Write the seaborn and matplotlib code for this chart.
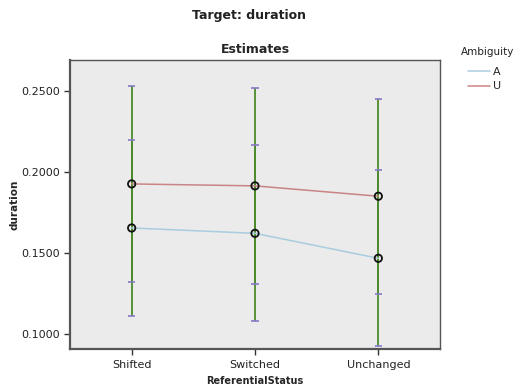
import numpy as np
import pandas as pd
import matplotlib
matplotlib.use("Agg")
import matplotlib.pyplot as plt
import seaborn as sns

# Estimated marginal means of duration with 95% CI bounds
status = ["Shifted", "Switched", "Unchanged"]
mean_A = [0.1654, 0.1621, 0.1467]
lower_A = [0.1113, 0.1080, 0.0925]
upper_A = [0.2196, 0.2165, 0.2010]
mean_U = [0.1926, 0.1914, 0.1850]
lower_U = [0.1321, 0.1309, 0.1245]
upper_U = [0.2531, 0.2517, 0.2453]
yticks = [0.10, 0.15, 0.20, 0.25]

df = pd.DataFrame({
    "ReferentialStatus": status * 2,
    "Ambiguity": ["A"] * 3 + ["U"] * 3,
    "duration": mean_A + mean_U,
    "lower": lower_A + lower_U,
    "upper": upper_A + upper_U,
})
df["x"] = df["ReferentialStatus"].map({s: i for i, s in enumerate(status)})

sns.set_theme(style="white")
plt.rcParams["font.family"] = ["DejaVu Sans"]

W, H = 518, 387
fig = plt.figure(figsize=(W / 100, H / 100), dpi=100)
ax = fig.add_axes([70 / W, 1 - 349 / H, 370 / W, 289 / H])
ax.set_facecolor("#ebebeb")

palette = {"A": "#a9cde0", "U": "#c98586"}

# error bars: green stems with purple caps
for _, r in df.iterrows():
    ax.vlines(r["x"], r["lower"], r["upper"], color="#4b8b2b", lw=1.3, zorder=2)
    ax.hlines([r["lower"], r["upper"]], r["x"] - 0.03, r["x"] + 0.03,
              color="#8878c8", lw=1.2, zorder=3)

sns.lineplot(data=df, x="x", y="duration", hue="Ambiguity", palette=palette,
             lw=1.1, ax=ax, zorder=4, legend=True)
sns.scatterplot(data=df, x="x", y="duration", ax=ax, s=28, marker="o",
                facecolor="none", edgecolor="#111111", linewidth=1.3,
                zorder=5, legend=False)

ax.set_xlim(-0.5, 2.5)
ax.set_ylim(0.0907, 0.2691)
ax.set_xticks(range(len(status)))
ax.set_xticklabels(status, fontsize=8, color="#222222")
ax.set_yticks(yticks)
ax.set_yticklabels([f"{v:.4f}" for v in yticks], fontsize=8, color="#222222")
ax.tick_params(axis="both", direction="out", length=4, width=1,
               color="#333333", pad=3, left=True, bottom=True)
ax.tick_params(axis="x", pad=4)
for sp in ax.spines.values():
    sp.set_color("#555555")
    sp.set_linewidth(1.0)
ax.spines["left"].set_linewidth(1.6)
ax.spines["bottom"].set_linewidth(1.6)

ax.set_xlabel("ReferentialStatus", fontsize=7, fontweight="bold", labelpad=4)
ax.set_ylabel("duration", fontsize=7.5, fontweight="bold", labelpad=1.5)
ax.set_title("Estimates", fontsize=9, fontweight="bold", pad=5)
fig.text(249.5 / W, 1 - 15 / H, "Target: duration", ha="center", va="center",
         fontsize=9, fontweight="bold", color="#222222")

handles, labels = ax.get_legend_handles_labels()
ax.legend(handles, labels, loc="upper left",
          bbox_to_anchor=(468 / W, 1 - 67 / H), bbox_transform=fig.transFigure,
          frameon=False, fontsize=8, borderpad=0, borderaxespad=0,
          handlelength=2.0, handletextpad=0.25, labelspacing=0.4)
fig.text(461 / W, 1 - 52 / H, "Ambiguity", ha="left", va="center",
         fontsize=7.5, color="#222222")

fig.savefig("out.png", dpi=100, facecolor="white")
